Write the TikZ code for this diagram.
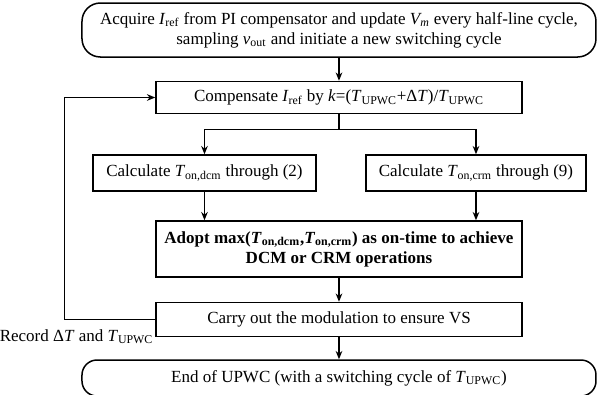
\documentclass[tikz,border=0pt]{standalone}
\usepackage{fontspec}
\setmainfont{Liberation Serif}
\usepackage{tikz}
\usetikzlibrary{arrows.meta,positioning,calc}

\newcommand{\Iref}{\textit{I}\textsubscript{ref}}
\newcommand{\Tup}{\textit{T}\textsubscript{UPWC}}

\begin{document}
\begin{tikzpicture}[
    node distance=0.4cm,
    font=\fontsize{10.2}{12}\selectfont,
    terminal/.style={draw, line width=0.9pt, rounded corners=11pt, minimum width=308.4pt, minimum height=32.4pt, align=center, inner sep=2pt},
    process/.style={draw, line width=0.9pt, minimum width=219.6pt, minimum height=19.2pt, align=center, inner sep=2pt},
    arrow/.style={-{Stealth[length=5pt, width=4pt]}, line width=0.8pt}
]
    \useasboundingbox (-203.4pt,18pt) rectangle (156pt,-218.4pt);

    \node[terminal] (start) at (0,0) {Acquire \Iref{} from PI compensator and update \textit{V\textsubscript{m}} every half-line cycle,\\sampling \textit{v}\textsubscript{out} and initiate a new switching cycle};
    \node[process, below=13.8pt of start] (comp) {Compensate \Iref{} by \textit{k}=(\Tup+Δ\textit{T})/\Tup};

    \node[process, minimum width=133.8pt, minimum height=21.6pt, below=24pt of comp, xshift=-80.7pt] (dcm) {Calculate \textit{T}\textsubscript{on,dcm} through (2)};
    \node[process, minimum width=132pt, minimum height=21.6pt, below=24pt of comp, xshift=82.2pt] (crm) {Calculate \textit{T}\textsubscript{on,crm} through (9)};

    \node[process, minimum height=33.6pt, below=63.6pt of comp, font=\fontsize{10.2}{12}\selectfont\bfseries] (adopt) {Adopt max(\textbf{\textit{T}}\textsubscript{on,dcm},\textbf{\textit{T}}\textsubscript{on,crm}) as on-time to achieve\\DCM or CRM operations};
    \node[process, minimum height=20.4pt, below=14.4pt of adopt] (carry) {Carry out the modulation to ensure VS};
    \node[terminal, rounded corners=9pt, minimum height=21.6pt, below=13.2pt of carry] (end) {End of UPWC (with a switching cycle of \Tup)};

    \node[anchor=base east, inner sep=1pt, yshift=-2.3pt] (record) at (carry.south west) {Record Δ\textit{T} and \Tup};
    \coordinate[left=54.6pt of carry.west] (back);

    \draw[arrow] (start) -- (comp);
    \draw[arrow] (comp.south) -- ++(0,-9pt) -| (dcm);
    \draw[arrow] (comp.south) -- ++(0,-9pt) -| (crm);
    \draw[arrow] (dcm) -- (dcm |- adopt.north);
    \draw[arrow] (crm) -- (crm |- adopt.north);
    \draw[arrow] (adopt) -- (carry);
    \draw[arrow] (carry) -- (end);
    \draw[arrow] (carry.west) -- (back) |- (comp.west);
\end{tikzpicture}
\end{document}
